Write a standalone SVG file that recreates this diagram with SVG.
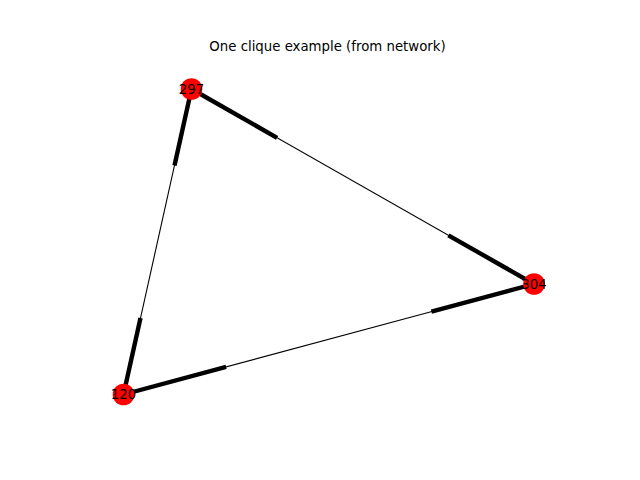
<svg xmlns="http://www.w3.org/2000/svg" width="640" height="480" viewBox="0 0 640 480">
<style>
.thin{stroke:#000;stroke-width:1.1;fill:none}
.thick{stroke:#000;stroke-width:4.4;fill:none}
.node{fill:#ff0000}
.lbl{font-family:"DejaVu Sans",sans-serif;font-size:13.3px;fill:#000;text-anchor:middle;dominant-baseline:central}
.title{font-family:"DejaVu Sans",sans-serif;font-size:13.3px;fill:#000;text-anchor:middle}
</style>
<rect width="640" height="480" fill="#fff"/>
<text class="title" x="327.5" y="51">One clique example (from network)</text>
<g id="edges">
<line class="thin" x1="191.5" y1="89" x2="534" y2="284"/>
<line class="thick" x1="191.5" y1="89" x2="277.1" y2="137.8"/>
<line class="thick" x1="448.4" y1="235.3" x2="534" y2="284"/>
<line class="thin" x1="534" y1="284" x2="123.5" y2="394.5"/>
<line class="thick" x1="534" y1="284" x2="431.4" y2="311.6"/>
<line class="thick" x1="226.1" y1="366.9" x2="123.5" y2="394.5"/>
<line class="thin" x1="191.5" y1="89" x2="123.5" y2="394.5"/>
<line class="thick" x1="191.5" y1="89" x2="174.5" y2="165.4"/>
<line class="thick" x1="140.5" y1="318.1" x2="123.5" y2="394.5"/>
</g>
<g id="node-297"><circle class="node" cx="191.5" cy="89" r="10.8"/><text class="lbl" x="191.5" y="89">297</text></g>
<g id="node-304"><circle class="node" cx="534" cy="284" r="10.8"/><text class="lbl" x="534" y="284">304</text></g>
<g id="node-120"><circle class="node" cx="123.5" cy="394.5" r="10.8"/><text class="lbl" x="123.5" y="394.5">120</text></g>
</svg>
